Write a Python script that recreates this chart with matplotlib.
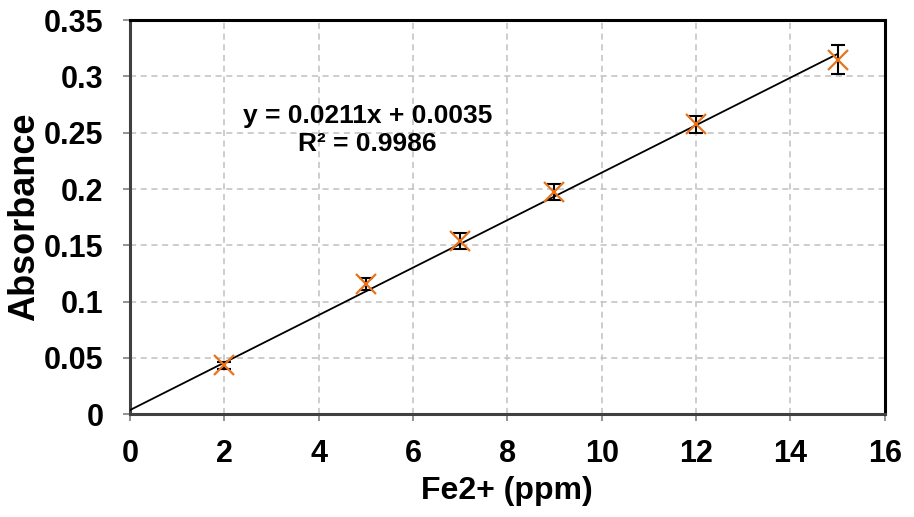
import matplotlib
matplotlib.use("Agg")
import matplotlib.pyplot as plt
import numpy as np

plt.rcParams['font.family'] = ['Liberation Sans', 'DejaVu Sans']

conc = [2, 5, 7, 9, 12, 15]
absorb = [0.0435, 0.1155, 0.1535, 0.197, 0.2575, 0.315]
err = [0.003, 0.005, 0.0072, 0.0072, 0.0075, 0.0125]
slope, intercept = 0.0211, 0.0035
trend_x = [0, 15]
xticks = [0, 2, 4, 6, 8, 10, 12, 14, 16]
yticks = [0, 0.05, 0.1, 0.15, 0.2, 0.25, 0.3, 0.35]
ytick_labels = ['0', '0.05', '0.1', '0.15', '0.2', '0.25', '0.3', '0.35']

fig = plt.figure(figsize=(9.14, 5.17), dpi=100)
ax = fig.add_axes([0.142, 0.199, 0.826, 0.762])

ax.grid(True, color='#c0c0c0', linestyle=(0, (4, 3)), linewidth=1.1)
ax.set_axisbelow(True)

tx = np.array(trend_x)
ax.plot(tx, slope * tx + intercept, color='black', linewidth=1.3, zorder=3)
ax.errorbar(conc, absorb, yerr=err, fmt='none', ecolor='black', elinewidth=1.5,
            capsize=5, capthick=1.5, zorder=4)
ax.plot(conc, absorb, linestyle='none', marker='x', markersize=14, markeredgewidth=1.6,
        color='#E8731A', zorder=5)

ax.set_xlim(0, 16)
ax.set_ylim(0, 0.35)
ax.set_xticks(xticks)
ax.set_yticks(yticks)
ax.set_yticklabels(ytick_labels)
ax.tick_params(axis='both', direction='out', length=5, width=1.2, color='#808080',
               labelsize=22)
ax.tick_params(axis='x', pad=13)
ax.tick_params(axis='y', pad=14)
for lbl in ax.get_xticklabels() + ax.get_yticklabels():
    lbl.set_fontweight('bold')

for s in ['top', 'right']:
    ax.spines[s].set_color('black')
    ax.spines[s].set_linewidth(2.2)
for s in ['left', 'bottom']:
    ax.spines[s].set_color('#404040')
    ax.spines[s].set_linewidth(2.2)

ax.set_xlabel('Fe2+ (ppm)', fontsize=23, fontweight='bold', labelpad=5)
ax.set_ylabel('Absorbance', fontsize=26, fontweight='bold', labelpad=1)

ax.text(5.04, 0.2527, 'y = 0.0211x + 0.0035\nR² = 0.9986', ha='center', va='center',
        fontsize=19, fontweight='bold', linespacing=1.2)

fig.savefig('out.png', dpi=100)
